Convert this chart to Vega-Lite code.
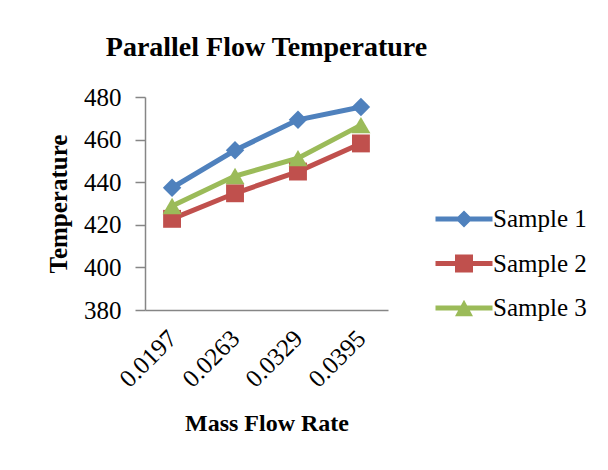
{
  "$schema": "https://vega.github.io/schema/vega-lite/v6.json",
  "width": 243,
  "height": 213,
  "autosize": {"type": "none"},
  "padding": {"left": 145, "top": 97, "right": 220, "bottom": 160},
  "background": "white",
  "title": {
    "text": "Parallel Flow Temperature",
    "font": "Liberation Serif",
    "fontSize": 28,
    "fontWeight": "bold",
    "color": "black",
    "anchor": "middle",
    "offset": 23
  },
  "config": {
    "view": {"stroke": null},
    "font": "Liberation Serif"
  },
  "data": {
    "values": [
      {"rate": "0.0197", "series": "Sample 1", "temp": 437.4},
      {"rate": "0.0263", "series": "Sample 1", "temp": 455},
      {"rate": "0.0329", "series": "Sample 1", "temp": 469.3},
      {"rate": "0.0395", "series": "Sample 1", "temp": 475.3},
      {"rate": "0.0197", "series": "Sample 2", "temp": 422.8},
      {"rate": "0.0263", "series": "Sample 2", "temp": 434.8},
      {"rate": "0.0329", "series": "Sample 2", "temp": 445},
      {"rate": "0.0395", "series": "Sample 2", "temp": 458.2},
      {"rate": "0.0197", "series": "Sample 3", "temp": 428.8},
      {"rate": "0.0263", "series": "Sample 3", "temp": 442.9},
      {"rate": "0.0329", "series": "Sample 3", "temp": 451.3},
      {"rate": "0.0395", "series": "Sample 3", "temp": 466.8}
    ]
  },
  "encoding": {
    "x": {
      "field": "rate",
      "type": "ordinal",
      "sort": null,
      "scale": {"type": "point", "padding": 0.43},
      "axis": {
        "title": "Mass Flow Rate",
        "titleFont": "Liberation Serif",
        "titleFontSize": 24,
        "titleFontWeight": "bold",
        "titleColor": "black",
        "titlePadding": 20,
        "labelFont": "Liberation Serif",
        "labelFontSize": 25,
        "labelColor": "black",
        "labelAngle": -45,
        "labelAlign": "right",
        "labelBaseline": "middle",
        "labelPadding": 24,
        "ticks": false,
        "domainColor": "#868686",
        "domainWidth": 1.5,
        "grid": false
      }
    },
    "y": {
      "field": "temp",
      "type": "quantitative",
      "scale": {"domain": [380, 480], "zero": false, "nice": false},
      "axis": {
        "title": "Temperature",
        "titleFont": "Liberation Serif",
        "titleFontSize": 25,
        "titleFontWeight": "bold",
        "titleColor": "black",
        "titlePadding": 12,
        "values": [380, 400, 420, 440, 460, 480],
        "labelFont": "Liberation Serif",
        "labelFontSize": 25,
        "labelColor": "black",
        "labelPadding": 14,
        "tickSize": 10,
        "tickColor": "#868686",
        "tickWidth": 1.5,
        "domainColor": "#868686",
        "domainWidth": 1.5,
        "grid": false
      }
    },
    "color": {
      "field": "series",
      "type": "nominal",
      "scale": {
        "domain": ["Sample 1", "Sample 2", "Sample 3"],
        "range": ["#4F81BD", "#C0504D", "#9BBB59"]
      },
      "legend": {
        "title": null,
        "orient": "none",
        "legendX": 304,
        "legendY": 107,
        "padding": 0,
        "labelFont": "Liberation Serif",
        "labelFontSize": 25,
        "labelColor": "black",
        "labelOffset": 14,
        "symbolSize": 900,
        "rowPadding": 16.5,
        "symbolStrokeWidth": 0,
        "encode": {
          "symbols": {
            "update": {
              "shape": {"signal": "datum.value === 'Sample 1' ? 'M-1.9,-0.17H1.9V0.17H-1.9Z M0,-0.57L0.57,0L0,0.57L-0.57,0Z' : datum.value === 'Sample 2' ? 'M-1.9,-0.17H1.9V0.17H-1.9Z M-0.6,-0.6H0.6V0.6H-0.6Z' : 'M-1.9,-0.17H1.9V0.17H-1.9Z M0,-0.55L0.6,0.55H-0.6Z'"},
              "fill": {"signal": "scale('color', datum.value)"},
              "opacity": {"value": 1},
              "strokeWidth": {"value": 0}
            }
          }
        }
      }
    }
  },
  "layer": [
    {
      "mark": {"type": "line", "strokeWidth": 5},
      "encoding": {"detail": {"field": "series"}}
    },
    {
      "transform": [{"filter": "datum.series === 'Sample 1'"}],
      "mark": {"type": "point", "filled": true, "opacity": 1, "shape": "diamond", "size": 340}
    },
    {
      "transform": [{"filter": "datum.series === 'Sample 2'"}],
      "mark": {"type": "point", "filled": true, "opacity": 1, "shape": "square", "size": 320}
    },
    {
      "transform": [{"filter": "datum.series === 'Sample 3'"}],
      "mark": {"type": "point", "filled": true, "opacity": 1, "shape": "triangle-up", "size": 360}
    }
  ]
}
